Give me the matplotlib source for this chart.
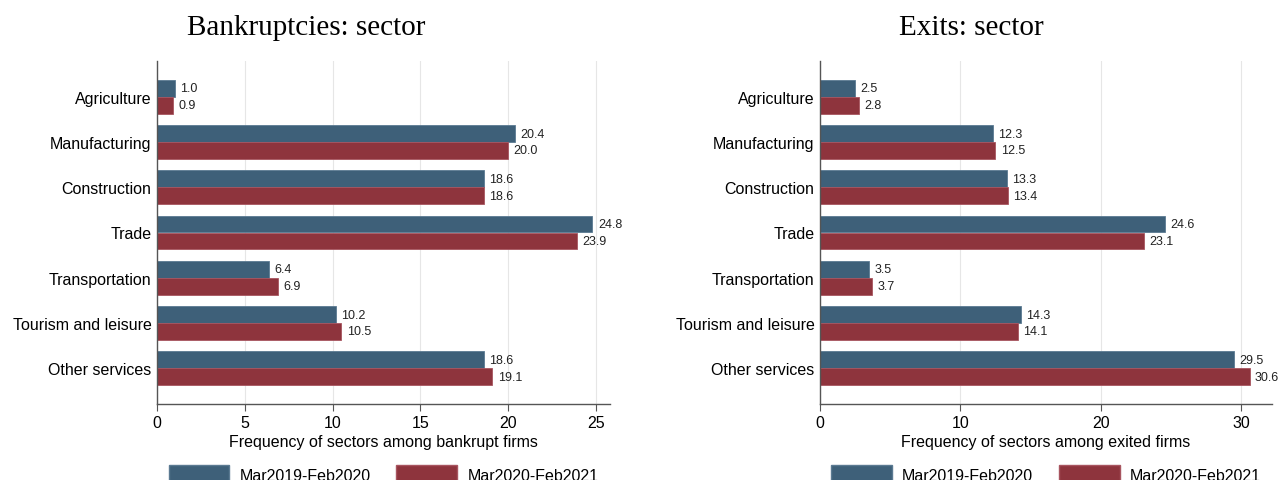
import matplotlib.pyplot as plt
import numpy as np
from matplotlib.patches import Patch

sectors = ["Agriculture", "Manufacturing", "Construction", "Trade",
           "Transportation", "Tourism and leisure", "Other services"]
periods = ["Mar2019-Feb2020", "Mar2020-Feb2021"]

bankrupt_2019 = [1.0, 20.4, 18.6, 24.8, 6.4, 10.2, 18.6]
bankrupt_2020 = [0.9, 20.0, 18.6, 23.9, 6.9, 10.5, 19.1]
exits_2019 = [2.5, 12.3, 13.3, 24.6, 3.5, 14.3, 29.5]
exits_2020 = [2.8, 12.5, 13.4, 23.1, 3.7, 14.1, 30.6]

blue = "#3e6079"
red = "#8e343d"
plt.rcParams['font.family'] = ['Liberation Sans', 'DejaVu Sans']

fig = plt.figure(figsize=(12.88, 4.81), dpi=100)
ax1 = fig.add_axes([157/1288, 1-405/481, 453/1288, 343/481])
ax2 = fig.add_axes([820/1288, 1-405/481, 452/1288, 343/481])


def draw_panel(ax, v1, v2, title, title_x, xlabel, xmax, ticks):
	y = np.arange(len(sectors))
	h = 0.375
	b1 = ax.barh(y - h/2, v1, height=h, color=blue, edgecolor="#5b7a92", linewidth=0.6)
	b2 = ax.barh(y + h/2, v2, height=h, color=red, edgecolor="#a85560", linewidth=0.6)
	for bars, vals in ((b1, v1), (b2, v2)):
		for bar, v in zip(bars, vals):
			ax.text(v + xmax*0.012, bar.get_y() + bar.get_height()/2, f"{v:.1f}",
					va="center", ha="left", fontsize=9, color="#222222")
	ax.set_ylim(len(sectors) - 1 + 0.79, -0.79)
	ax.set_xlim(0, xmax)
	ax.set_yticks(y)
	ax.set_yticklabels(sectors, fontsize=11.5)
	ax.set_xticks(ticks)
	ax.tick_params(axis="x", labelsize=11.5, length=5, color="#555555", pad=3)
	ax.tick_params(axis="y", length=0, pad=4)
	ax.grid(axis="x", color="#e6e6e6", linewidth=0.8)
	ax.set_axisbelow(True)
	for s in ("top", "right"):
		ax.spines[s].set_visible(False)
	for s in ("left", "bottom"):
		ax.spines[s].set_color("#555555")
		ax.spines[s].set_linewidth(1.0)
	ax.set_xlabel(xlabel, fontsize=11.5, labelpad=3)
	fig.text(title_x, 1-28/481, title, fontsize=21, family="Liberation Serif",
			 ha="center", va="center")
	handles = [Patch(facecolor=blue, edgecolor="#5b7a92"), Patch(facecolor=red, edgecolor="#a85560")]
	ax.legend(handles, periods, loc="upper center", bbox_to_anchor=(0.5, -0.155), ncol=2,
			  frameon=False, fontsize=11.5, handlelength=3.8, handleheight=1.4,
			  columnspacing=1.6, handletextpad=0.65, borderpad=0)


draw_panel(ax1, bankrupt_2019, bankrupt_2020, "Bankruptcies: sector", 306/1288,
		   "Frequency of sectors among bankrupt firms", 25.8, [0, 5, 10, 15, 20, 25])
draw_panel(ax2, exits_2019, exits_2020, "Exits: sector", 971/1288,
		   "Frequency of sectors among exited firms", 32.2, [0, 10, 20, 30])

fig.savefig("out.png", dpi=100)
